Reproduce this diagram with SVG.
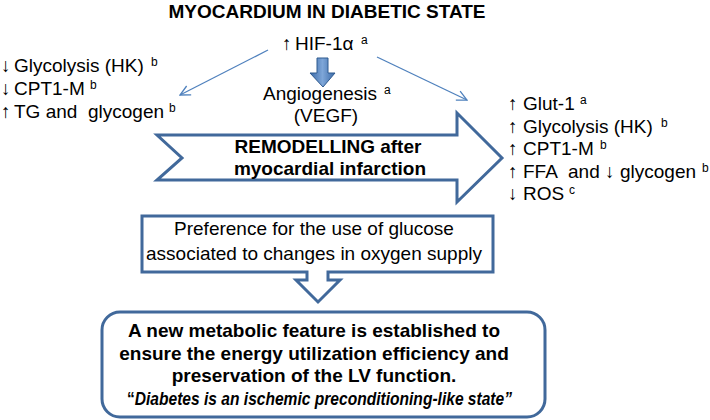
<svg xmlns="http://www.w3.org/2000/svg" width="710" height="420" viewBox="0 0 710 420">
<style>
text{font-family:"Liberation Sans",Arial,sans-serif;fill:#000}
.t{font-size:19px}
.a{font-size:19px}
.b{font-size:19px;font-weight:bold}
.s{font-size:12px}
.c{text-anchor:middle}
.outline{fill:#fff;stroke:#41699b;stroke-width:3;stroke-linejoin:miter}
.thin{fill:none;stroke:#4f81bd;stroke-width:1.3}
</style>
<defs>
<marker id="open" viewBox="0 0 12 12" refX="11" refY="6" markerWidth="12" markerHeight="12" markerUnits="userSpaceOnUse" orient="auto">
<path d="M1,1 L11,6 L1,11" fill="none" stroke="#4f81bd" stroke-width="1.3"/>
</marker>
<linearGradient id="g" x1="0" y1="0" x2="1" y2="0">
<stop offset="0" stop-color="#3a6aa8"/>
<stop offset="0.5" stop-color="#7ea6d8"/>
<stop offset="1" stop-color="#3a6aa8"/>
</linearGradient>
</defs>

<g id="title"><text class="b c" x="327" y="18">MYOCARDIUM IN DIABETIC STATE</text></g>

<g id="hif">
<text class="a" x="282" y="50">↑</text>
<text class="t" x="295" y="50">HIF-1α</text>
<text class="s" x="361" y="44">a</text>
</g>

<g id="connectors">
<line class="thin" x1="268" y1="50" x2="180" y2="95" marker-end="url(#open)"/>
<line class="thin" x1="377" y1="57" x2="467" y2="100" marker-end="url(#open)"/>
<path d="M317,58 L328,58 L328,73 L335,73 L323,87 L310,73 L317,73 Z" fill="url(#g)" stroke="#2f5a8f" stroke-width="1"/>
</g>

<g id="left-list">
<text class="a" x="1" y="72">↓</text>
<text class="t" x="14" y="72">Glycolysis (HK)</text>
<text class="s" x="151" y="66">b</text>
<text class="a" x="1" y="95">↓</text>
<text class="t" x="14" y="95">CPT1-M</text>
<text class="s" x="90" y="89">b</text>
<text class="a" x="1" y="118">↑</text>
<text class="t" x="14" y="118">TG and</text>
<text class="t" x="88" y="118">glycogen</text>
<text class="s" x="169" y="112">b</text>
</g>

<g id="angiogenesis">
<text class="t" x="263" y="100">Angiogenesis</text>
<text class="s" x="384" y="94">a</text>
<text class="t c" x="326" y="122">(VEGF)</text>
</g>

<g id="remodelling">
<path class="outline" d="M157,135 L457,135 L457,113 L502,158 L457,202 L457,180 L157,180 L182,158 Z"/>
<text class="b c" x="328" y="153">REMODELLING after</text>
<text class="b c" x="330" y="175">myocardial infarction</text>
</g>

<g id="right-list">
<text class="a" x="508" y="110">↑</text>
<text class="t" x="523" y="110">Glut-1</text>
<text class="s" x="580" y="104">a</text>
<text class="a" x="508" y="133">↑</text>
<text class="t" x="523" y="133">Glycolysis (HK)</text>
<text class="s" x="661" y="127">b</text>
<text class="a" x="508" y="155">↑</text>
<text class="t" x="523" y="155">CPT1-M</text>
<text class="s" x="600" y="149">b</text>
<text class="a" x="508" y="178">↑</text>
<text class="t" x="523" y="178">FFA</text>
<text class="t" x="568" y="178">and</text>
<text class="a" x="605" y="178">↓</text>
<text class="t" x="620" y="178">glycogen</text>
<text class="s" x="702" y="172">b</text>
<text class="a" x="508" y="200">↓</text>
<text class="t" x="523" y="200">ROS</text>
<text class="s" x="569" y="194">c</text>
</g>

<g id="preference">
<path class="outline" d="M142,216 L493,216 L493,272 L328,272 L328,280 L340,280 L318,302 L296,280 L307,280 L307,272 L142,272 Z"/>
<text class="t c" x="314" y="235">Preference for the use of glucose</text>
<text class="t c" x="314" y="260">associated to changes in oxygen supply</text>
</g>

<g id="conclusion">
<rect class="outline" x="102" y="312" width="443" height="105" rx="18" ry="18"/>
<text class="b c" x="314" y="337">A new metabolic feature is established to</text>
<text class="b c" x="314" y="360">ensure the energy utilization efficiency and</text>
<text class="b c" x="314" y="382">preservation of the LV function.</text>
<text x="127" y="405" textLength="385" lengthAdjust="spacingAndGlyphs" style="font-size:18px;font-weight:bold">“<tspan style="font-style:italic">Diabetes is an ischemic preconditioning-like state”</tspan></text>
</g>
</svg>
